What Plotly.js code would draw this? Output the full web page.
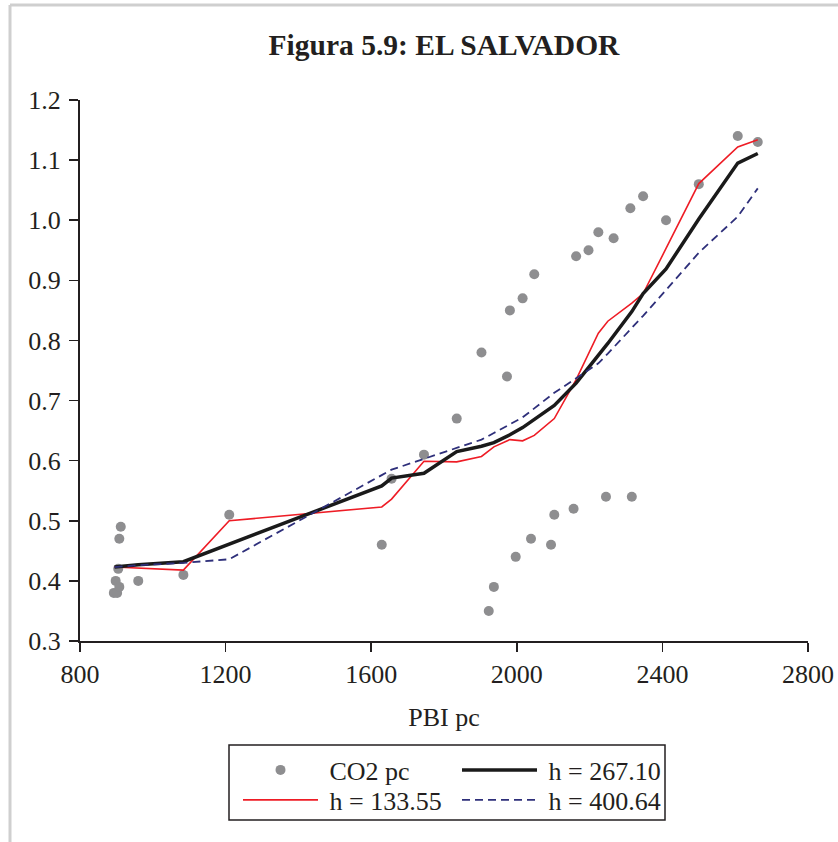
<!DOCTYPE html>
<html>
<head>
<meta charset="utf-8">
<script src="https://cdn.plot.ly/plotly-3.0.1.min.js"></script>
<style>html,body{margin:0;padding:0;background:#fff;}#chart{width:838px;height:842px;}</style>
</head>
<body>
<div id="chart"></div>
<script>
// Scatter data: PBI pc (x) vs CO2 pc (y)
const pbiPc = [893, 902, 898, 908, 905, 908, 912, 960, 1084, 1210, 1629, 1656, 1745, 1835, 1903, 1923, 1937, 1973, 1981, 1997, 2016, 2039, 2048, 2094, 2103, 2156, 2163, 2197, 2224, 2245, 2266, 2312, 2316, 2347, 2410, 2500, 2607, 2662];
const co2Pc = [0.38, 0.38, 0.40, 0.39, 0.42, 0.47, 0.49, 0.40, 0.41, 0.51, 0.46, 0.57, 0.61, 0.67, 0.78, 0.35, 0.39, 0.74, 0.85, 0.44, 0.87, 0.47, 0.91, 0.46, 0.51, 0.52, 0.94, 0.95, 0.98, 0.54, 0.97, 1.02, 0.54, 1.04, 1.00, 1.06, 1.14, 1.13];

// Kernel fits evaluated along PBI pc
const fitX = [895, 960, 1084, 1210, 1629, 1656, 1745, 1835, 1903, 1937, 1981, 2016, 2048, 2103, 2163, 2224, 2250, 2316, 2347, 2410, 2500, 2607, 2662];
const fitH133 = [0.423, 0.421, 0.418, 0.500, 0.523, 0.536, 0.599, 0.598, 0.607, 0.623, 0.635, 0.633, 0.642, 0.670, 0.735, 0.812, 0.832, 0.862, 0.878, 0.953, 1.061, 1.122, 1.134];
const fitH267 = [0.423, 0.427, 0.432, 0.461, 0.558, 0.571, 0.579, 0.615, 0.624, 0.630, 0.643, 0.655, 0.668, 0.692, 0.729, 0.775, 0.795, 0.848, 0.878, 0.919, 1.002, 1.095, 1.111];
const fitH400 = [0.423, 0.426, 0.430, 0.436, 0.576, 0.585, 0.603, 0.621, 0.635, 0.646, 0.660, 0.672, 0.687, 0.713, 0.737, 0.762, 0.778, 0.820, 0.841, 0.884, 0.946, 1.006, 1.053];

const xTicks = [800, 1200, 1600, 2000, 2400, 2800];
const yTicks = [0.3, 0.4, 0.5, 0.6, 0.7, 0.8, 0.9, 1.0, 1.1, 1.2];

const serif = "Liberation Serif, Times New Roman, serif";
const ink = "#231f20";

const traces = [
  {x: pbiPc, y: co2Pc, type: "scatter", mode: "markers", name: "&nbsp;CO2 pc",
   marker: {color: "#8e8e90", size: 10}, legend: "legend"},
  {x: fitX, y: fitH133, type: "scatter", mode: "lines", name: "&nbsp;h = 133.55",
   line: {color: "#ee1c25", width: 1.6}, legend: "legend2"},
  {x: fitX, y: fitH267, type: "scatter", mode: "lines", name: "&nbsp;h = 267.10",
   line: {color: "#1a1a1a", width: 3.5}, legend: "legend3"},
  {x: fitX, y: fitH400, type: "scatter", mode: "lines", name: "&nbsp;h = 400.64",
   line: {color: "#2e2f7a", width: 1.8, dash: "8px,5px"}, legend: "legend4"}
];

const px2x = p => (p - 80) / 728;
const px2y = p => (641 - p) / 541;

function leg(xpx, ypx) {
  return {x: px2x(xpx), y: px2y(ypx), xanchor: "left", yanchor: "middle", orientation: "v",
          bgcolor: "rgba(0,0,0,0)", borderwidth: 0, itemwidth: 75,
          font: {family: serif, size: 26, color: ink}};
}

const layout = {
  width: 838, height: 842,
  margin: {l: 80, r: 30, t: 100, b: 201},
  paper_bgcolor: "#fff", plot_bgcolor: "#fff",
  font: {family: serif, color: ink, size: 26},
  title: {text: "<b>Figura 5.9: EL SALVADOR</b>", font: {family: serif, size: 29.5, color: ink},
          x: 0.5, xref: "paper", y: 1 - 45/842, yref: "container", yanchor: "middle"},
  xaxis: {range: [800, 2800], tickvals: xTicks, ticktext: xTicks.map(String),
          showgrid: false, zeroline: false, showline: true, linecolor: ink, linewidth: 2,
          ticks: "outside", ticklen: 9, tickwidth: 1.5, tickcolor: ink,
          tickfont: {family: serif, size: 26, color: ink},
          title: {text: "PBI pc", font: {family: serif, size: 26, color: ink}, standoff: 20}},
  yaxis: {range: [0.3, 1.2], tickvals: yTicks, ticktext: yTicks.map(v => v.toFixed(1)),
          showgrid: false, zeroline: false, showline: true, linecolor: ink, linewidth: 2,
          ticks: "outside", ticklen: 9, tickwidth: 1.5, tickcolor: ink, ticklabelstandoff: 3,
          tickfont: {family: serif, size: 26, color: ink}},
  showlegend: true,
  legend: leg(238, 770),
  legend2: leg(238, 800),
  legend3: leg(457, 770),
  legend4: leg(457, 800),
  shapes: [
    {type: "rect", xref: "paper", yref: "paper", x0: px2x(229), x1: px2x(665), y0: px2y(820), y1: px2y(745),
     line: {color: ink, width: 1.5}, fillcolor: "rgba(0,0,0,0)"},
    {type: "line", xref: "paper", yref: "paper", x0: px2x(10), x1: px2x(10), y0: px2y(5), y1: px2y(845),
     line: {color: "#cfcfcf", width: 3}},
    {type: "line", xref: "paper", yref: "paper", x0: px2x(10), x1: px2x(840), y0: px2y(5), y1: px2y(5),
     line: {color: "#cfcfcf", width: 3}}
  ]
};

Plotly.newPlot("chart", traces, layout, {displayModeBar: false, staticPlot: true});
</script>
</body>
</html>
